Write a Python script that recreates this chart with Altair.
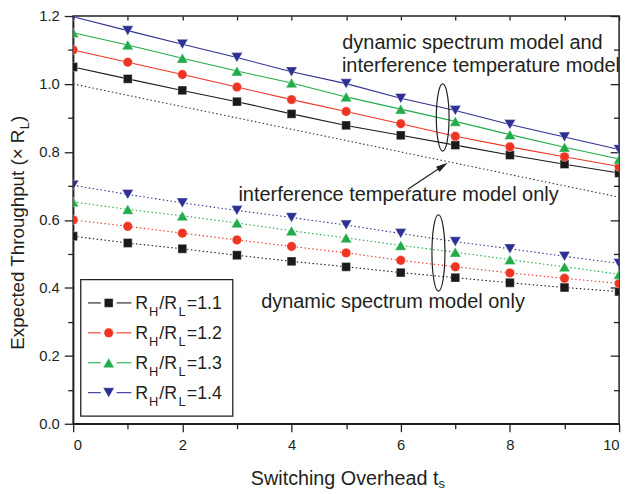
import altair as alt
import pandas as pd

# ---------------- data ----------------
x_vals = [0, 1, 2, 3, 4, 5, 6, 7, 8, 9, 10]
ratios = ["1.1", "1.2", "1.3", "1.4"]

# dynamic spectrum model and interference temperature model (solid)
combined_11 = [1.050, 1.015, 0.981, 0.948, 0.912, 0.878, 0.849, 0.820, 0.791, 0.764, 0.738]
combined_12 = [1.100, 1.064, 1.028, 0.991, 0.954, 0.919, 0.883, 0.846, 0.815, 0.786, 0.757]
combined_13 = [1.151, 1.115, 1.076, 1.038, 1.003, 0.962, 0.926, 0.890, 0.851, 0.814, 0.779]
combined_14 = [1.198, 1.157, 1.117, 1.078, 1.036, 1.001, 0.958, 0.922, 0.881, 0.844, 0.807]

# dynamic spectrum model only (dotted)
dsm_11 = [0.552, 0.532, 0.515, 0.496, 0.478, 0.462, 0.445, 0.430, 0.415, 0.401, 0.389]
dsm_12 = [0.600, 0.581, 0.561, 0.541, 0.522, 0.503, 0.481, 0.462, 0.444, 0.428, 0.413]
dsm_13 = [0.653, 0.631, 0.612, 0.591, 0.568, 0.547, 0.525, 0.505, 0.483, 0.462, 0.440]
dsm_14 = [0.702, 0.675, 0.650, 0.628, 0.607, 0.585, 0.560, 0.536, 0.515, 0.493, 0.472]

# interference temperature model only (black dotted, no markers)
itm_x = [0, 10]
itm_y = [1.0, 0.667]

x_major = [0, 2, 4, 6, 8, 10]
x_minor = [1, 3, 5, 7, 9]
y_major = [0.0, 0.2, 0.4, 0.6, 0.8, 1.0, 1.2]
y_minor = [0.1, 0.3, 0.5, 0.7, 0.9, 1.1]

x_title = "Switching Overhead t"
x_title_sub = "s"
y_title = "Expected Throughput (\u00d7 R"
y_title_sub = "L"
y_title_end = ")"
note_both = ["dynamic spectrum model and", "interference temperature model"]
note_itm = "interference temperature model only"
note_dsm = "dynamic spectrum model only"

# ---------------- build tables ----------------
combined = dict(zip(ratios, [combined_11, combined_12, combined_13, combined_14]))
dsm_only = dict(zip(ratios, [dsm_11, dsm_12, dsm_13, dsm_14]))
rows = []
for r in ratios:
    for xi, yi in zip(x_vals, combined[r]):
        rows.append({"x": xi, "y": yi, "ratio": r, "model": "both"})
    for xi, yi in zip(x_vals, dsm_only[r]):
        rows.append({"x": xi, "y": yi, "ratio": r, "model": "dsm"})
df = pd.DataFrame(rows)
df_itm = pd.DataFrame({"x": itm_x, "y": itm_y})
df_leg = pd.DataFrame({"ratio": ratios, "i": list(range(len(ratios)))})
one = alt.Data(values=[{"k": 0}])

# ---------------- styles ----------------
FONT = "Liberation Sans"
TXT = "#231F20"
colors = ["#1A1A1A", "#EE3524", "#22AC4B", "#2E3192"]
shapes = ["square", "circle", "triangle-up", "triangle-down"]
sizes = [80, 92, 130, 130]
W, H = 553, 413

xs = alt.Scale(domain=[0, 10], nice=False, zero=False)
ys = alt.Scale(domain=[0, 1.2], nice=False, zero=False)
color_ln = alt.Color("ratio:N", scale=alt.Scale(domain=ratios, range=colors), legend=None)


def ax(**kw):
    base = dict(grid=False, title=None, domainColor=TXT, tickColor=TXT, labelColor=TXT,
                labelFont=FONT, labelFontSize=15, domainWidth=1.5, tickWidth=1.3)
    base.update(kw)
    return alt.Axis(**base)


ax_x_major = ax(orient="bottom", values=x_major, tickSize=8, labelPadding=6, format="d")
ax_y_major = ax(orient="left", values=y_major, tickSize=9, labelPadding=5, format=".1f")
ax_x_minor = ax(orient="bottom", values=x_minor, tickSize=5, labels=False, domain=False)
ax_y_minor = ax(orient="left", values=y_minor, tickSize=5.5, labels=False, domain=False)
ax_x_top = ax(orient="top", values=x_vals, tickSize=4, offset=-4, labels=False, domain=False)
ax_y_rmaj = ax(orient="right", values=y_major, tickSize=9, offset=-9, labels=False, domain=False)
ax_y_rmin = ax(orient="right", values=y_minor, tickSize=5.7, offset=-5.7, labels=False, domain=False)


def axis_layer(xaxis, yaxis):
    return alt.Chart(df).mark_point(opacity=0).encode(
        x=alt.X("x:Q", scale=xs, axis=xaxis),
        y=alt.Y("y:Q", scale=ys, axis=yaxis),
    )


base = alt.Chart(df)

solid = base.transform_filter("datum.model == 'both'").mark_line(strokeWidth=1.1, clip=True).encode(
    x=alt.X("x:Q", scale=xs, axis=ax_x_major),
    y=alt.Y("y:Q", scale=ys, axis=ax_y_major),
    color=color_ln, detail="ratio:N",
)
dotted = base.transform_filter("datum.model == 'dsm'").mark_line(
    strokeWidth=1.1, strokeDash=[1.5, 2.5], clip=True).encode(
    x=alt.X("x:Q", scale=xs, axis=None),
    y=alt.Y("y:Q", scale=ys, axis=None),
    color=color_ln, detail="ratio:N",
)
itm = alt.Chart(df_itm).mark_line(strokeWidth=1.1, strokeDash=[1.5, 2.5], color="#333333", clip=True).encode(
    x=alt.X("x:Q", scale=xs, axis=None),
    y=alt.Y("y:Q", scale=ys, axis=None),
)

point_layers = []
for r, c, s, z in zip(ratios, colors, shapes, sizes):
    point_layers.append(
        base.transform_filter(alt.datum.ratio == r).mark_point(
            filled=True, opacity=1, fill=c, stroke="white", strokeWidth=0.4, shape=s, size=z, clip=True
        ).encode(
            x=alt.X("x:Q", scale=xs, axis=None),
            y=alt.Y("y:Q", scale=ys, axis=None),
        )
    )

# ---------------- legend (built by hand for subscripts) ----------------
leg_box = alt.Chart(one).mark_rect(fill="white", stroke=TXT, strokeWidth=1.3).encode(
    x=alt.value(7.7), x2=alt.value(161.7), y=alt.value(267.0), y2=alt.value(405.3))
leg = alt.Chart(df_leg).transform_calculate(
    py="290.6 + datum.i * 30.3", pm="290.6 + datum.i * 30.3 + 6",
    ps="290.6 + datum.i * 30.3 + 13.4", lab="'=' + datum.ratio")
ypx = alt.Y("py:Q", scale=None, axis=None)
leg_l1 = leg.mark_rule(strokeWidth=1.1).encode(x=alt.value(15), x2=alt.value(28), y=ypx, color=color_ln)
leg_l2 = leg.mark_rule(strokeWidth=1.1).encode(x=alt.value(44), x2=alt.value(59), y=ypx, color=color_ln)
leg_pts = []
for r, c, s, z in zip(ratios, colors, shapes, sizes):
    leg_pts.append(
        leg.transform_filter(alt.datum.ratio == r).mark_point(
            filled=True, opacity=1, fill=c, stroke="white", strokeWidth=0.4, shape=s, size=z
        ).encode(x=alt.value(36), y=ypx)
    )
tkw = dict(align="left", baseline="alphabetic", font=FONT, color=TXT)
ym = alt.Y("pm:Q", scale=None, axis=None)
ysb = alt.Y("ps:Q", scale=None, axis=None)
leg_t1 = leg.mark_text(text="R", fontSize=18, **tkw).encode(x=alt.value(62.9), y=ym)
leg_t2 = leg.mark_text(text="H", fontSize=13, **tkw).encode(x=alt.value(76.7), y=ysb)
leg_t3 = leg.mark_text(text="/R", fontSize=18, **tkw).encode(x=alt.value(87.2), y=ym)
leg_t4 = leg.mark_text(text="L", fontSize=13, **tkw).encode(x=alt.value(106.7), y=ysb)
leg_t5 = leg.mark_text(fontSize=18, **tkw).encode(x=alt.value(115.1), y=ym, text="lab:N")

# ---------------- axis titles with subscripts ----------------
xt1 = alt.Chart(one).mark_text(text=x_title, fontSize=20, **tkw).encode(x=alt.value(180), y=alt.value(475.3))
xt2 = alt.Chart(one).mark_text(text=x_title_sub, fontSize=13, **tkw).encode(x=alt.value(370), y=alt.value(478))
yt1 = alt.Chart(one).mark_text(text=y_title, fontSize=19, angle=270, **tkw).encode(
    x=alt.value(-49.8), y=alt.value(338))
yt2 = alt.Chart(one).mark_text(text=y_title_sub, fontSize=13, angle=270, **tkw).encode(
    x=alt.value(-45.0), y=alt.value(114.6))
yt3 = alt.Chart(one).mark_text(text=y_title_end, fontSize=19, angle=270, **tkw).encode(
    x=alt.value(-49.8), y=alt.value(107.4))

# ---------------- annotations ----------------
akw = dict(align="left", baseline="alphabetic", font=FONT, color=TXT, fontSize=20.2)
n1 = alt.Chart(one).mark_text(text=note_both[0], **akw).encode(x=alt.value(272.6), y=alt.value(33.7))
n2 = alt.Chart(one).mark_text(text=note_both[1], **akw).encode(x=alt.value(272.2), y=alt.value(57.0))
n3 = alt.Chart(one).mark_text(text=note_itm, **akw).encode(x=alt.value(167.4), y=alt.value(187.5))
n4 = alt.Chart(one).mark_text(text=note_dsm, **akw).encode(x=alt.value(190.4), y=alt.value(295.3))

ell_path = "M0,-1A0.19,1,0,1,1,0,1A0.19,1,0,1,1,0,-1Z"
ell_path2 = "M0,-1A0.17,1,0,1,1,0,1A0.17,1,0,1,1,0,-1Z"
e1 = alt.Chart(one).mark_point(shape=ell_path, filled=False, stroke=TXT, strokeWidth=1.2, opacity=1).encode(
    x=alt.value(374.3), y=alt.value(102.8), size=alt.value(4624))
e2 = alt.Chart(one).mark_point(shape=ell_path2, filled=False, stroke=TXT, strokeWidth=1.2, opacity=1).encode(
    x=alt.value(370.0), y=alt.value(240.0), size=alt.value(5991))
arrow = alt.Chart(one).mark_rule(color=TXT, strokeWidth=1.2).encode(
    x=alt.value(339.0), y=alt.value(175.5), x2=alt.value(376.0), y2=alt.value(150.9))
head = alt.Chart(one).mark_point(shape="M0,0L0.27,1L-0.27,1Z", filled=True, color=TXT, opacity=1,
                                 angle=56).encode(
    x=alt.value(379.3), y=alt.value(148.7), size=alt.value(576))

chart = alt.layer(
    axis_layer(ax_x_minor, ax_y_minor),
    axis_layer(ax_x_top, ax_y_rmaj),
    axis_layer(None, ax_y_rmin),
    itm, dotted, solid, *point_layers,
    leg_box, leg_l1, leg_l2, *leg_pts, leg_t1, leg_t2, leg_t3, leg_t4, leg_t5,
    xt1, xt2, yt1, yt2, yt3,
    n1, n2, n3, n4, e1, e2, arrow, head,
).resolve_axis(x="independent", y="independent").properties(
    width=W, height=H, autosize="none",
    padding={"left": 66, "top": 5, "right": 8, "bottom": 68},
    background="white",
).configure_view(stroke=TXT, strokeWidth=1.5)

chart.save("out.html", embed_options={"renderer": "svg", "actions": False})
